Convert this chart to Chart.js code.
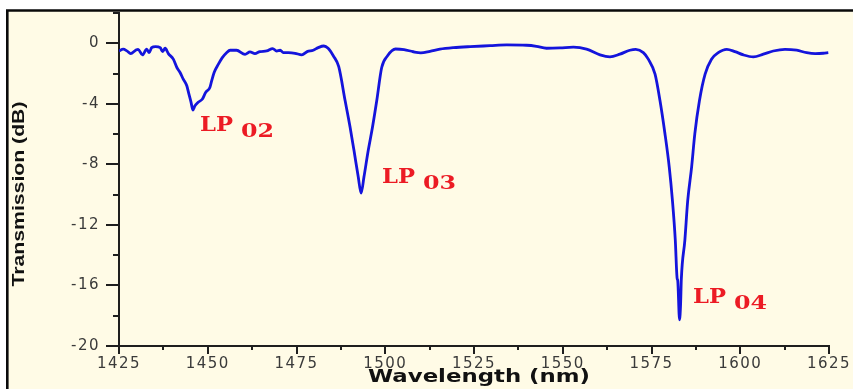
<!DOCTYPE html>
<html>
<head>
<meta charset="utf-8">
<title>Transmission spectrum</title>
<script src="https://cdn.jsdelivr.net/npm/chart.js@4.4.1/dist/chart.umd.min.js"></script>
<style>
  html, body { margin: 0; padding: 0; background: #ffffff; overflow: hidden; }
  canvas { display: block; }
</style>
</head>
<body>
<canvas id="spectrum" width="853" height="389"></canvas>
<script>
// Measured transmission spectrum of the fibre grating (wavelength in nm, transmission in dB)
const wavelength = [
  1425.0, 1426.2, 1427.2, 1428.3, 1429.7, 1430.4, 1431.6, 1432.8, 1433.5, 1434.2,
  1435.3, 1436.6, 1437.3, 1438.0, 1438.9, 1440.3, 1441.3, 1442.2, 1443.1, 1444.1,
  1444.7, 1445.3, 1445.8, 1446.4, 1447.3, 1448.5, 1449.4, 1450.6, 1451.1, 1451.8,
  1453.0, 1454.1, 1455.3, 1456.3, 1458.1, 1460.5, 1461.9, 1463.3, 1464.7, 1466.6,
  1468.3, 1469.4, 1470.4, 1471.3, 1472.7, 1474.6, 1476.5, 1478.0, 1479.7, 1481.1,
  1482.7, 1483.9, 1485.4, 1486.9, 1488.7, 1490.1, 1491.2, 1492.4, 1493.2, 1494.0,
  1495.2, 1496.4, 1497.6, 1499.0, 1500.6, 1502.9, 1505.3, 1507.9, 1510.0, 1512.6,
  1515.4, 1519.2, 1523.9, 1529.5, 1534.2, 1539.8, 1542.6, 1545.4, 1549.2, 1553.0,
  1556.7, 1560.5, 1563.3, 1566.1, 1568.9, 1570.6, 1572.7, 1574.1, 1576.0, 1577.4,
  1578.8, 1580.0, 1580.9, 1581.7, 1582.2, 1582.4, 1582.9, 1583.2, 1583.4, 1584.4,
  1585.2, 1586.3, 1587.2, 1588.5, 1590.1, 1591.9, 1593.8, 1596.2, 1598.5, 1600.9,
  1603.7, 1606.5, 1609.3, 1612.6, 1615.9, 1618.7, 1621.1, 1623.4, 1624.8
];
const transmission = [
  -0.51, -0.39, -0.50, -0.68, -0.46, -0.40, -0.77, -0.39, -0.62, -0.29,
  -0.22, -0.29, -0.55, -0.33, -0.68, -1.05, -1.60, -1.93, -2.37, -2.81,
  -3.36, -3.90, -4.41, -4.13, -3.90, -3.68, -3.25, -2.92, -2.48, -1.93,
  -1.38, -0.95, -0.62, -0.46, -0.46, -0.73, -0.57, -0.68, -0.55, -0.51,
  -0.35, -0.51, -0.46, -0.62, -0.62, -0.66, -0.77, -0.55, -0.46, -0.29,
  -0.18, -0.33, -0.84, -1.55, -3.80, -5.55, -7.09, -8.84, -9.90, -8.84,
  -7.09, -5.55, -3.80, -1.60, -0.84, -0.38, -0.42, -0.56, -0.63, -0.53,
  -0.39, -0.29, -0.22, -0.16, -0.11, -0.13, -0.20, -0.33, -0.31, -0.26,
  -0.39, -0.77, -0.90, -0.72, -0.46, -0.40, -0.62, -1.05, -2.04, -3.80,
  -5.99, -8.18, -10.40, -13.00, -15.50, -15.70, -18.27, -17.20, -15.60, -13.00,
  -10.40, -8.18, -5.99, -3.80, -2.04, -1.05, -0.62, -0.40, -0.55, -0.77,
  -0.90, -0.72, -0.51, -0.40, -0.46, -0.62, -0.68, -0.66, -0.62
];

// Axis ticks: labelled (major) values and the unlabelled minor marks between them
const xTickLabels = [1425, 1450, 1475, 1500, 1525, 1550, 1575, 1600, 1625];
const xMinorTicks = [1437.5, 1462.5, 1487.5, 1512.5, 1537.5, 1562.5, 1587.5, 1612.5];
const yTickLabels = [0, -4, -8, -12, -16, -20];
const yMinorTicks = [2, -2, -6, -10, -14, -18];

// Mode labels at the resonance dips
const modeNames = ['LP', 'LP', 'LP'];
const modeOrders = ['02', '03', '04'];
const modeLabelX = [1447.8, 1499.1, 1586.7];
const modeLabelY = [-5.8, -9.26, -17.15];

const AXIS_COLOR = '#1e1e1e';

// Cream panel with a black frame behind everything
const framePlugin = {
  id: 'frame',
  beforeDraw(chart) {
    const ctx = chart.ctx;
    ctx.save();
    ctx.fillStyle = '#ffffff';
    ctx.fillRect(0, 0, chart.width, chart.height);
    ctx.fillStyle = '#fffbe6';
    ctx.fillRect(7, 10, chart.width - 7, chart.height - 10);
    ctx.strokeStyle = '#0a0a0a';
    ctx.lineWidth = 2.6;
    ctx.beginPath();
    ctx.moveTo(7.3, chart.height);
    ctx.lineTo(7.3, 10.5);
    ctx.lineTo(chart.width, 10.5);
    ctx.stroke();
    ctx.restore();
    // slightly wider spacing for the tick numerals
    ctx.letterSpacing = '1.5px';
  },
  afterDraw(chart) {
    chart.ctx.letterSpacing = '0px';
  }
};

// Outward tick marks, long at labelled values and short in between
const tickMarkPlugin = {
  id: 'tickMarks',
  afterDraw(chart) {
    const ctx = chart.ctx;
    const xs = chart.scales.x, ys = chart.scales.y;
    const area = chart.chartArea;
    ctx.save();
    ctx.letterSpacing = '0px';
    ctx.strokeStyle = AXIS_COLOR;
    ctx.lineWidth = 2;
    ctx.beginPath();
    xTickLabels.forEach(v => { const p = Math.round(xs.getPixelForValue(v)); ctx.moveTo(p, area.bottom); ctx.lineTo(p, area.bottom + 8); });
    xMinorTicks.forEach(v => { const p = Math.round(xs.getPixelForValue(v)); ctx.moveTo(p, area.bottom); ctx.lineTo(p, area.bottom + 4); });
    yTickLabels.forEach(v => { const p = Math.round(ys.getPixelForValue(v)); ctx.moveTo(area.left, p); ctx.lineTo(area.left - 13, p); });
    yMinorTicks.forEach(v => { const p = Math.round(ys.getPixelForValue(v)); ctx.moveTo(area.left, p); ctx.lineTo(area.left - 6, p); });
    ctx.stroke();
    ctx.restore();
  }
};

// Axis titles and the red mode labels
const textPlugin = {
  id: 'texts',
  afterDraw(chart) {
    const ctx = chart.ctx;
    const xs = chart.scales.x, ys = chart.scales.y;
    ctx.save();
    ctx.letterSpacing = '0px';

    // x-axis title
    ctx.fillStyle = '#111111';
    ctx.font = 'bold 18px "DejaVu Sans"';
    ctx.textAlign = 'center';
    ctx.textBaseline = 'alphabetic';
    const xt = 'Wavelength (nm)';
    const xw = ctx.measureText(xt).width;
    ctx.save();
    ctx.translate(479, 382);
    ctx.scale(222 / xw, 1);
    ctx.fillText(xt, 0, 0);
    ctx.restore();

    // y-axis title
    ctx.font = 'bold 16px "Liberation Sans"';
    ctx.textBaseline = 'middle';
    const yt = 'Transmission (dB)';
    const yw = ctx.measureText(yt).width;
    ctx.save();
    ctx.translate(20, 194);
    ctx.rotate(-Math.PI / 2);
    ctx.scale(185 / yw, 1);
    ctx.fillText(yt, 0, 0);
    ctx.restore();

    // LP mode labels
    ctx.fillStyle = '#ec1b24';
    ctx.textAlign = 'left';
    ctx.textBaseline = 'alphabetic';
    for (let i = 0; i < modeNames.length; i++) {
      const px = xs.getPixelForValue(modeLabelX[i]);
      const py = ys.getPixelForValue(modeLabelY[i]);
      ctx.font = 'bold 21px "DejaVu Serif"';
      const nw = ctx.measureText(modeNames[i]).width * 1.08;
      ctx.save();
      ctx.translate(px, py);
      ctx.scale(1.08, 1);
      ctx.fillText(modeNames[i], 0, 0);
      ctx.restore();
      ctx.font = 'bold 19px "DejaVu Serif"';
      ctx.save();
      ctx.translate(px + nw + 8, py + 6);
      ctx.scale(1.25, 1);
      ctx.fillText(modeOrders[i], 0, 0);
      ctx.restore();
    }
    ctx.restore();
  }
};

const points = wavelength.map((w, i) => ({ x: w, y: transmission[i] }));

new Chart(document.getElementById('spectrum'), {
  type: 'line',
  data: {
    datasets: [{
      data: points,
      borderColor: '#1414dc',
      borderWidth: 2.8,
      pointRadius: 0,
      cubicInterpolationMode: 'monotone',
      fill: false
    }]
  },
  options: {
    responsive: false,
    devicePixelRatio: 1,
    animation: false,
    events: [],
    layout: { padding: { top: 13, right: 24, left: 0, bottom: 0 } },
    plugins: { legend: { display: false }, tooltip: { enabled: false } },
    scales: {
      x: {
        type: 'linear',
        min: 1425,
        max: 1625,
        afterFit(scale) { scale.height = 43; },
        afterBuildTicks(scale) { scale.ticks = xTickLabels.map(v => ({ value: v })); },
        ticks: {
          autoSkip: false,
          maxRotation: 0,
          padding: 0,
          color: '#3a3a3a',
          font: { family: 'DejaVu Sans', size: 15 },
          callback: v => String(v)
        },
        grid: { drawOnChartArea: false, drawTicks: true, tickLength: 9, tickColor: 'rgba(0,0,0,0)' },
        border: { display: true, color: AXIS_COLOR, width: 2 }
      },
      y: {
        type: 'linear',
        min: -20,
        max: 2,
        afterFit(scale) { scale.width = 119; },
        afterBuildTicks(scale) { scale.ticks = yTickLabels.map(v => ({ value: v })); },
        ticks: {
          padding: 0,
          color: '#3a3a3a',
          font: { family: 'DejaVu Sans', size: 15 },
          callback: v => String(v)
        },
        grid: { drawOnChartArea: false, drawTicks: true, tickLength: 19, tickColor: 'rgba(0,0,0,0)' },
        border: { display: true, color: AXIS_COLOR, width: 2 }
      }
    }
  },
  plugins: [framePlugin, tickMarkPlugin, textPlugin]
});
</script>
</body>
</html>
